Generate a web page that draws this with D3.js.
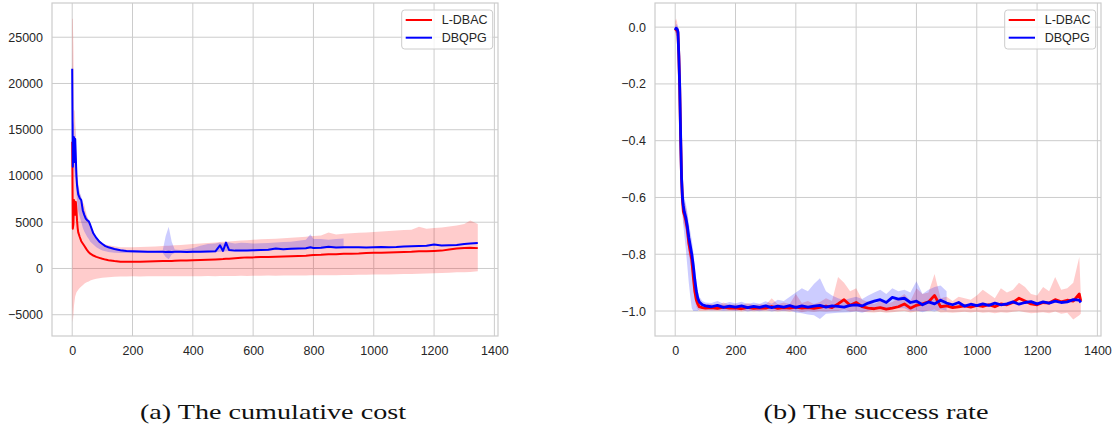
<!DOCTYPE html>
<html>
<head>
<meta charset="UTF-8">
<style>
    body { margin: 0; background: #fff; }
    svg { display: block; }
    .tick text { font-family: "Liberation Sans", Arial, sans-serif; font-size: 12.5px; fill: #262626; }
    .grid line { stroke: #cccccc; stroke-width: 1; }
    .frame { fill: none; stroke: #cccccc; stroke-width: 1.2; }
    .legend text { font-family: "Liberation Sans", Arial, sans-serif; font-size: 12.5px; fill: #262626; }
    .caption { font-family: "Liberation Serif", "Times New Roman", serif; font-size: 21px; fill: #111; }
</style>
</head>
<body>
<script src="https://cdn.jsdelivr.net/npm/d3@7"></script>
<script>
// ---- (a) cumulative cost ----
var costEpisodes = [0,2,4,6,8,10,12,14,16,18,20,25,30,35,40,45,50,55,60,70,80,90,100,110,120,140,160,180,200,
    225,250,275,300,310,320,330,340,360,380,400,425,450,475,490,500,510,520,540,560,580,600,
    625,650,675,700,725,750,775,790,800,825,850,875,900,925,950,975,1000,1025,1050,1075,1100,
    1125,1150,1175,1200,1225,1250,1275,1300,1320,1345];

var costLdbacMean = [13700,4300,4800,7400,6600,5800,7200,6400,5200,4400,3900,3400,2950,2700,2450,2200,1950,1750,1600,
    1400,1250,1150,1050,960,900,800,720,720,730,740,760,780,800,800,820,810,830,850,870,900,
    920,950,980,1000,1020,1050,1060,1100,1150,1200,1200,1230,1250,1280,1300,1330,1350,1380,1420,1450,
    1480,1550,1550,1580,1600,1620,1660,1690,1700,1720,1750,1780,1800,1850,1870,1900,1930,2050,2150,2220,2250,2200];
var costLdbacLow = [-4000,-5800,-5000,-4000,-3500,-3000,-2800,-2600,-2500,-2400,-2300,-2100,-1950,-1800,-1650,-1550,-1450,-1400,-1300,
    -1200,-1100,-1050,-1000,-980,-950,-900,-880,-860,-850,-860,-840,-850,-840,-830,-850,-840,-850,-840,-830,-840,
    -830,-820,-830,-820,-810,-820,-810,-800,-790,-800,-780,-790,-770,-780,-760,-770,-750,-760,-740,-740,
    -730,-720,-720,-700,-700,-690,-680,-660,-650,-640,-620,-600,-600,-580,-550,-520,-500,-460,-420,-400,-380,-300];
var costLdbacHigh = [27000,27000,24000,17000,17200,16000,14000,12500,11000,10000,9200,8200,7600,7200,6900,6200,5600,5100,4700,
    4000,3400,3000,2750,2600,2500,2400,2300,2300,2300,2320,2350,2380,2420,2450,2460,2480,2500,2550,2600,2650,
    2700,2750,2800,2850,2880,2900,2920,2980,3020,3060,3100,3150,3180,3220,3280,3320,3380,3420,3500,3520,
    3560,3900,3680,3750,3800,3850,3900,3950,4000,4050,4100,4150,4200,4500,4300,4380,4420,4550,4650,4800,5200,4800];

var costDbqpgMean = [21600,11000,13000,14200,11500,14000,12000,10000,9000,8500,8000,7600,7400,6300,5800,5400,5200,5100,4700,
    3800,3300,2900,2650,2420,2300,2100,1960,1900,1870,1840,1810,1800,1800,1780,1810,1790,1800,1800,1790,1810,
    1820,1840,1860,2500,1900,2800,2000,1930,1940,1950,1960,1990,2030,2150,2080,2130,2170,2190,2300,2220,
    2240,2350,2280,2290,2300,2290,2280,2300,2310,2300,2330,2380,2400,2420,2450,2600,2480,2520,2550,2640,2700,2750];
var costDbqpgLow = [17000,9000,10500,11500,10000,11000,9800,8200,7300,6700,6200,5600,5000,4400,4000,3700,3400,3200,2900,
    2600,2300,2100,1950,1850,1780,1700,1680,1680,1680,1680,1700,1700,1680,1250,1000,1500,1680,1680,1680,1700,
    1720,1740,1760,1800,1800,1850,1850,1830,1840,1850,1860,1890,1930,2000,1980,2030,2070,2090,2150,2120,
    2140,2200,2180,2190,null,null,null,null,null,null,null,null,null,null,null,null,null,null,null,null,null,null];
var costDbqpgHigh = [23800,16000,15500,16000,13500,15500,13500,11500,10300,9500,9000,8200,7800,6900,6300,5800,5500,5300,4900,
    3950,3400,3000,2750,2520,2400,2200,2050,1980,1950,1920,1900,1900,1950,3500,4500,2900,2050,2000,2100,2200,
    2450,2650,2700,2800,2700,2900,2800,2700,2780,2750,2700,2720,2760,2800,2850,2900,3000,3100,3700,3200,
    3200,3100,3200,3250,null,null,null,null,null,null,null,null,null,null,null,null,null,null,null,null,null,null];
var costTicks = [-5000,0,5000,10000,15000,20000,25000];

// ---- (b) success rate ----
var rateEpisodes = [0,3,6,9,12,15,18,21,24,27,30,35,40,45,50,55,60,65,70,75,80,90,100,
    120,140,160,180,200,220,240,260,280,300,320,340,360,380,400,420,440,460,480,500,520,540,560,580,600,
    620,640,660,680,700,720,740,760,780,800,820,840,860,880,900,920,940,960,980,1000,1020,1040,1060,1080,
    1100,1120,1140,1160,1180,1200,1220,1240,1260,1280,1300,1320,1340,1345];

var rateLdbacMean = [-0.005,-0.010,-0.008,-0.020,-0.10,-0.22,-0.39,-0.53,-0.61,-0.65,-0.66,-0.68,-0.71,-0.76,-0.79,-0.82,-0.88,-0.93,-0.96,-0.975,-0.985,-0.988,-0.990,
    -0.988,-0.991,-0.986,-0.990,-0.989,-0.992,-0.987,-0.991,-0.989,-0.990,-0.984,-0.991,-0.988,-0.990,-0.986,-0.990,-0.988,-0.991,-0.987,-0.983,-0.988,-0.975,-0.960,-0.980,-0.970,
    -0.985,-0.990,-0.992,-0.988,-0.993,-0.990,-0.985,-0.975,-0.990,-0.980,-0.975,-0.968,-0.945,-0.985,-0.982,-0.988,-0.985,-0.982,-0.986,-0.980,-0.984,-0.978,-0.985,-0.975,
    -0.978,-0.970,-0.955,-0.965,-0.975,-0.978,-0.970,-0.972,-0.960,-0.968,-0.962,-0.965,-0.940,-0.965];
var rateLdbacLow = [-0.02,-0.03,-0.03,-0.05,-0.16,-0.28,-0.45,-0.58,-0.65,-0.69,-0.70,-0.72,-0.75,-0.80,-0.83,-0.86,-0.92,-0.96,-0.985,-0.995,-1.0,-1.0,-1.0,
    -0.998,-1.000,-0.997,-1.000,-0.999,-1.002,-0.998,-1.001,-0.999,-1.000,-0.998,-1.002,-0.999,-1.003,-0.998,-1.004,-1.000,-1.003,-1.000,-1.002,-1.000,-1.000,-0.995,-1.002,-1.000,
    -1.003,-1.004,-1.005,-1.003,-1.006,-1.004,-1.002,-1.000,-1.005,-1.002,-1.000,-1.000,-0.995,-1.005,-1.004,-1.006,-1.004,-1.003,-1.005,-1.003,-1.006,-1.004,-1.008,-1.004,
    -1.006,-1.003,-1.000,-1.004,-1.008,-1.006,-1.004,-1.008,-1.002,-1.010,-1.006,-1.030,-1.015,-1.010];
var rateLdbacHigh = [0.02,0.03,0.02,0.00,-0.05,-0.16,-0.33,-0.48,-0.55,-0.60,-0.62,-0.63,-0.66,-0.71,-0.75,-0.78,-0.83,-0.89,-0.93,-0.955,-0.97,-0.975,-0.975,
    -0.975,-0.980,-0.970,-0.978,-0.976,-0.980,-0.972,-0.979,-0.975,-0.978,-0.955,-0.976,-0.970,-0.975,-0.940,-0.972,-0.965,-0.975,-0.968,-0.955,-0.965,-0.880,-0.900,-0.930,-0.920,
    -0.960,-0.968,-0.975,-0.965,-0.975,-0.968,-0.955,-0.940,-0.965,-0.920,-0.940,-0.935,-0.870,-0.955,-0.950,-0.965,-0.950,-0.955,-0.960,-0.945,-0.925,-0.940,-0.955,-0.920,
    -0.935,-0.925,-0.900,-0.915,-0.940,-0.945,-0.915,-0.930,-0.880,-0.925,-0.920,-0.900,-0.810,-0.940];

var rateDbqpgMean = [-0.010,-0.004,-0.006,-0.015,-0.10,-0.21,-0.38,-0.53,-0.60,-0.63,-0.65,-0.67,-0.70,-0.74,-0.77,-0.80,-0.84,-0.89,-0.93,-0.955,-0.968,-0.978,-0.982,
    -0.985,-0.980,-0.987,-0.983,-0.986,-0.982,-0.988,-0.984,-0.987,-0.982,-0.988,-0.983,-0.986,-0.981,-0.987,-0.982,-0.986,-0.983,-0.980,-0.986,-0.982,-0.984,-0.986,-0.980,-0.978,
    -0.982,-0.972,-0.965,-0.960,-0.970,-0.952,-0.958,-0.955,-0.970,-0.965,-0.978,-0.968,-0.975,-0.962,-0.972,-0.978,-0.970,-0.983,-0.976,-0.981,-0.975,-0.980,-0.972,-0.978,
    -0.975,-0.968,-0.976,-0.970,-0.967,-0.975,-0.968,-0.972,-0.965,-0.970,-0.968,-0.960,-0.962,-0.970];
var rateDbqpgLow = [-0.02,-0.02,-0.02,-0.04,-0.15,-0.30,-0.47,-0.60,-0.66,-0.70,-0.73,-0.78,-0.84,-0.90,-0.95,-0.99,-1.00,-1.00,-1.00,-1.00,-0.995,-0.995,-0.995,
    -0.998,-0.996,-1.000,-0.997,-1.000,-0.996,-1.002,-0.998,-1.001,-0.996,-1.002,-0.998,-1.000,-0.998,-1.005,-1.008,-1.012,-1.015,-1.028,-1.010,-1.008,-1.006,-1.005,-1.004,-1.002,
    -1.006,-1.000,-0.995,-0.992,-0.998,-0.985,-0.990,-0.990,-1.000,-0.998,-1.004,-0.998,-1.002,-0.995,-0.998,
    null,null,null,null,null,null,null,null,null,null,null,null,null,null,null,null,null,null,null,null,null,null,null];
var rateDbqpgHigh = [0.00,0.01,0.01,0.00,-0.05,-0.14,-0.30,-0.46,-0.55,-0.58,-0.60,-0.62,-0.65,-0.69,-0.72,-0.75,-0.79,-0.84,-0.89,-0.93,-0.95,-0.965,-0.97,
    -0.972,-0.965,-0.974,-0.968,-0.973,-0.967,-0.975,-0.970,-0.974,-0.966,-0.974,-0.960,-0.965,-0.950,-0.935,-0.920,-0.930,-0.905,-0.885,-0.930,-0.945,-0.955,-0.962,-0.955,-0.950,
    -0.958,-0.945,-0.935,-0.925,-0.940,-0.920,-0.930,-0.925,-0.935,-0.895,-0.940,-0.925,-0.915,-0.910,-0.930,
    null,null,null,null,null,null,null,null,null,null,null,null,null,null,null,null,null,null,null,null,null,null,null];
var rateTicks = [-1.0,-0.8,-0.6,-0.4,-0.2,0.0];

var episodeTicks = [0,200,400,600,800,1000,1200,1400];
var seriesNames = ["L-DBAC", "DBQPG"];
var seriesColors = ["#ff0000", "#0000ff"];
var captions = ["(a) The cumulative cost", "(b) The success rate"];

var width = 1114, height = 431;
var svg = d3.select("body").append("svg").attr("width", width).attr("height", height);

function drawPanel(p) {
    var w = 446, h = 333;
    var g = svg.append("g").attr("transform", "translate(" + p.left + ",3)");
    var x = d3.scaleLinear().domain([-67, 1412]).range([0, w]);
    var y = d3.scaleLinear().domain(p.yDomain).range([h, 0]);

    var grid = g.append("g").attr("class", "grid");
    grid.selectAll(".vx").data(episodeTicks).enter().append("line")
        .attr("x1", function(d) { return x(d); }).attr("x2", function(d) { return x(d); })
        .attr("y1", 0).attr("y2", h);
    grid.selectAll(".hy").data(p.yTicks).enter().append("line")
        .attr("y1", function(d) { return y(d); }).attr("y2", function(d) { return y(d); })
        .attr("x1", 0).attr("x2", w);

    var plot = g.append("g");
    // bands first (under the lines)
    p.series.forEach(function(s, k) {
        var area = d3.area()
            .defined(function(d, i) { return s.lo[i] != null; })
            .x(function(d) { return x(d); })
            .y0(function(d, i) { return y(s.lo[i]); })
            .y1(function(d, i) { return y(s.hi[i]); });
        plot.append("path").datum(p.episodes)
            .attr("d", area)
            .attr("fill", seriesColors[k])
            .attr("fill-opacity", 0.2);
    });
    p.series.forEach(function(s, k) {
        var line = d3.line()
            .x(function(d) { return x(d); })
            .y(function(d, i) { return y(s.mean[i]); });
        plot.append("path").datum(p.episodes)
            .attr("d", line)
            .attr("fill", "none")
            .attr("stroke", seriesColors[k])
            .attr("stroke-width", p.lineWidth)
            .attr("stroke-linejoin", "round");
    });

    g.append("rect").attr("class", "frame").attr("width", w).attr("height", h);

    g.append("g").attr("transform", "translate(0," + h + ")")
        .call(d3.axisBottom(x).tickValues(episodeTicks).tickFormat(d3.format("d")).tickSize(0).tickPadding(10))
        .call(function(a) { a.select(".domain").remove(); });
    g.append("g")
        .call(d3.axisLeft(y).tickValues(p.yTicks).tickFormat(p.yFormat).tickSize(0).tickPadding(9))
        .call(function(a) { a.select(".domain").remove(); });

    // legend, upper right
    var lg = g.append("g").attr("class", "legend").attr("transform", "translate(349.7,7)");
    lg.append("rect").attr("width", 91).attr("height", 39).attr("rx", 3)
        .attr("fill", "#fff").attr("fill-opacity", 0.8)
        .attr("stroke", "#cccccc").attr("stroke-width", 1);
    seriesNames.forEach(function(n, k) {
        var yy = 10 + k * 17.7;
        lg.append("line").attr("x1", 4).attr("x2", 30.3).attr("y1", yy).attr("y2", yy)
            .attr("stroke", seriesColors[k]).attr("stroke-width", 2);
        lg.append("text").attr("x", 40).attr("y", yy).attr("dy", "0.35em").text(n);
    });

    svg.append("text").attr("class", "caption")
        .attr("x", p.captionX).attr("y", 419)
        .attr("text-anchor", "middle")
        .attr("textLength", p.captionWidth)
        .attr("lengthAdjust", "spacingAndGlyphs")
        .text(p.caption);
}

drawPanel({
    left: 52,
    yDomain: [-7300, 28700],
    yTicks: costTicks,
    yFormat: d3.format("d"),
    episodes: costEpisodes,
    lineWidth: 2,
    series: [
        {mean: costLdbacMean, lo: costLdbacLow, hi: costLdbacHigh},
        {mean: costDbqpgMean, lo: costDbqpgLow, hi: costDbqpgHigh}
    ],
    caption: captions[0], captionX: 273, captionWidth: 266
});

drawPanel({
    left: 655,
    yDomain: [-1.088, 0.085],
    yTicks: rateTicks,
    yFormat: d3.format(".1f"),
    episodes: rateEpisodes,
    lineWidth: 2.8,
    series: [
        {mean: rateLdbacMean, lo: rateLdbacLow, hi: rateLdbacHigh},
        {mean: rateDbqpgMean, lo: rateDbqpgLow, hi: rateDbqpgHigh}
    ],
    caption: captions[1], captionX: 876, captionWidth: 225
});
</script>
</body>
</html>
